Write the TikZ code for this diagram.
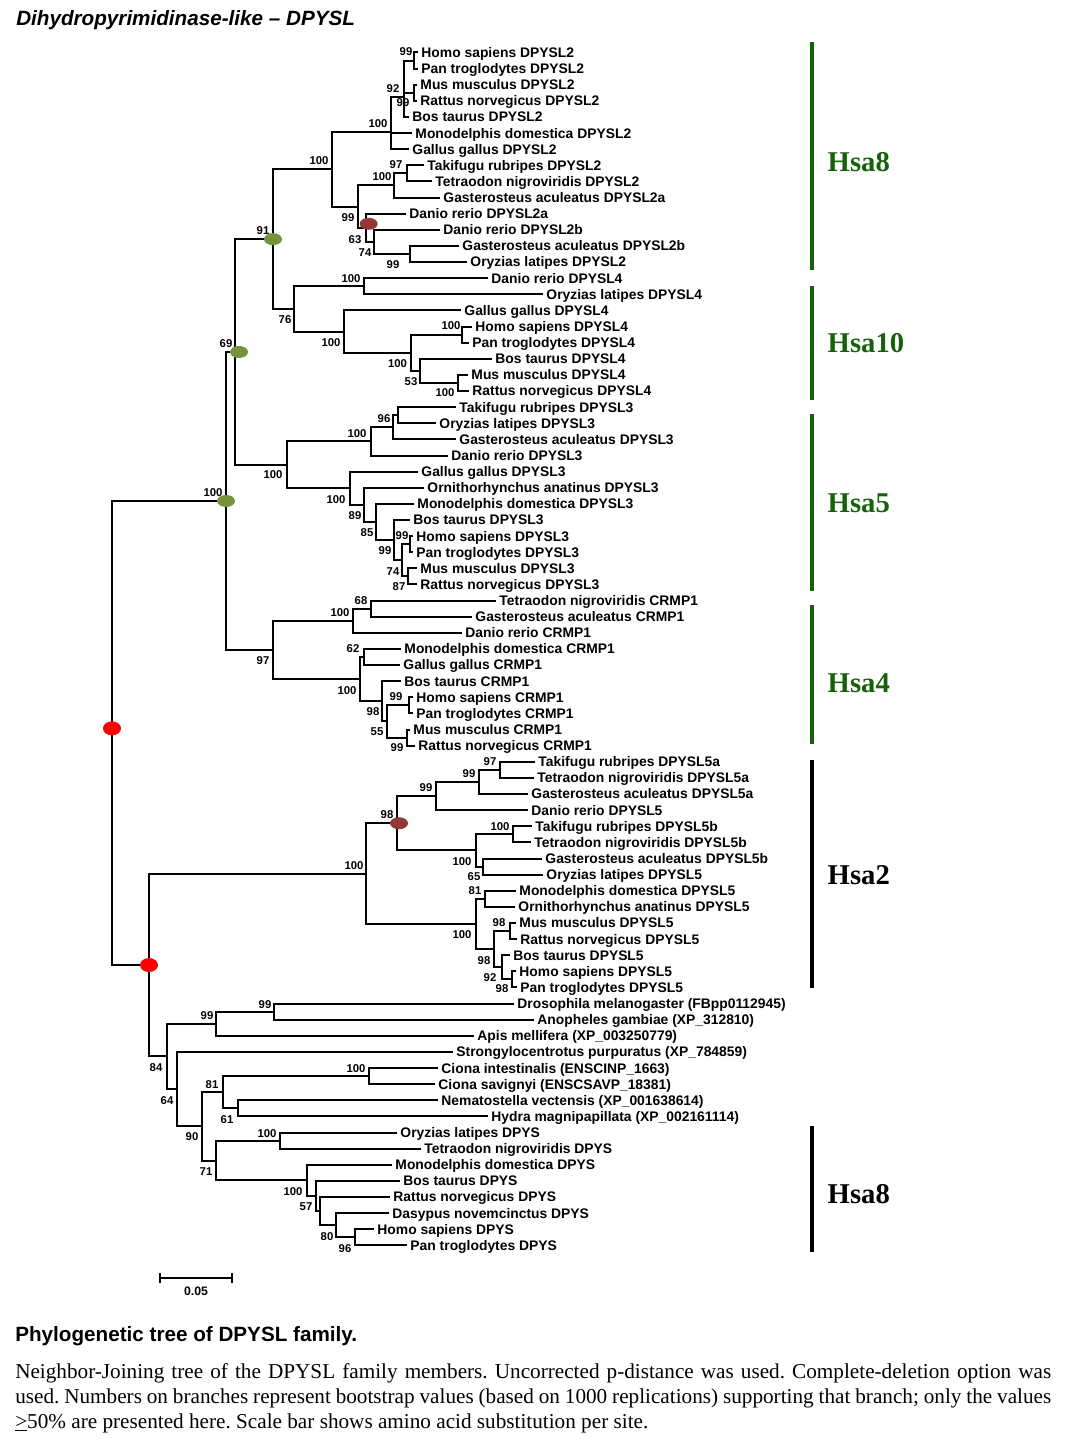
\documentclass[tikz,border=0pt]{standalone}
\usepackage{fontspec}
\setmainfont{Liberation Sans}
\newfontfamily\serifrm{Liberation Serif}
\usetikzlibrary{calc,shapes.geometric}
\definecolor{hsagreen}{RGB}{22,98,10}
\definecolor{dotgreen}{RGB}{118,146,60}
\definecolor{dotbrown}{RGB}{149,55,53}
\tikzset{
  br/.style={line width=1.5pt},
  lf/.style={anchor=west,inner xsep=2.4pt,inner ysep=0pt,text height=7.4pt,text depth=0pt,
    font=\bfseries\fontsize{10.4}{12}\selectfont},
  bsv/.style={inner sep=0pt,font=\bfseries\fontsize{8.5}{10}\selectfont},
  dot/.style={ellipse,inner sep=0pt,minimum width=13.5pt,minimum height=9pt},
  hsabar/.style={line width=3pt},
  hsa/.style={anchor=west,font=\serifrm\bfseries\fontsize{21.5}{24}\selectfont}
}
\newcommand\tjoin[4]{%
  \coordinate (tmp) at ($(#3)!.5!(#4)$);
  \coordinate (#1) at (#2,0 |- tmp);
  \draw[br] (#1) |- (#3) (#1) |- (#4);}

\begin{document}
\begin{tikzpicture}[x=0.75pt,y=-0.75pt]
\path[use as bounding box] (0,0) rectangle (1066,1448);
\node[anchor=west,inner sep=0pt,font=\bfseries\itshape\fontsize{15.5}{18}\selectfont] (ttl) at (16,20) {Dihydropyrimidinase-like – DPYSL};

\foreach \lx/\lt [count=\i] in {418/Homo sapiens DPYSL2, 418/Pan troglodytes DPYSL2,
  417/Mus musculus DPYSL2, 417/Rattus norvegicus DPYSL2, 409/Bos taurus DPYSL2,
  412/Monodelphis domestica DPYSL2, 409/Gallus gallus DPYSL2, 424/Takifugu rubripes DPYSL2,
  432/Tetraodon nigroviridis DPYSL2, 440/Gasterosteus aculeatus DPYSL2a, 406/Danio rerio DPYSL2a,
  440/Danio rerio DPYSL2b, 459/Gasterosteus aculeatus DPYSL2b, 467/Oryzias latipes DPYSL2,
  488/Danio rerio DPYSL4, 543/Oryzias latipes DPYSL4, 461/Gallus gallus DPYSL4,
  472/Homo sapiens DPYSL4, 469/Pan troglodytes DPYSL4, 492/Bos taurus DPYSL4,
  468/Mus musculus DPYSL4, 469/Rattus norvegicus DPYSL4, 456/Takifugu rubripes DPYSL3,
  436/Oryzias latipes DPYSL3, 456/Gasterosteus aculeatus DPYSL3, 448/Danio rerio DPYSL3,
  418/Gallus gallus DPYSL3, 424/Ornithorhynchus anatinus DPYSL3, 414/Monodelphis domestica DPYSL3,
  410/Bos taurus DPYSL3, 413/Homo sapiens DPYSL3, 413/Pan troglodytes DPYSL3,
  417/Mus musculus DPYSL3, 417/Rattus norvegicus DPYSL3, 496/Tetraodon nigroviridis CRMP1,
  472/Gasterosteus aculeatus CRMP1, 462/Danio rerio CRMP1, 401/Monodelphis domestica CRMP1,
  400/Gallus gallus CRMP1, 401/Bos taurus CRMP1, 413/Homo sapiens CRMP1,
  413/Pan troglodytes CRMP1, 410/Mus musculus CRMP1, 415/Rattus norvegicus CRMP1,
  535/Takifugu rubripes DPYSL5a, 534/Tetraodon nigroviridis DPYSL5a, 528/Gasterosteus aculeatus DPYSL5a,
  528/Danio rerio DPYSL5, 532/Takifugu rubripes DPYSL5b, 531/Tetraodon nigroviridis DPYSL5b,
  542/Gasterosteus aculeatus DPYSL5b, 543/Oryzias latipes DPYSL5, 516/Monodelphis domestica DPYSL5,
  515/Ornithorhynchus anatinus DPYSL5, 516/Mus musculus DPYSL5, 517/Rattus norvegicus DPYSL5,
  510/Bos taurus DPYSL5, 516/Homo sapiens DPYSL5, 517/Pan troglodytes DPYSL5,
  514/Drosophila melanogaster (FBpp0112945), 534/Anopheles gambiae (XP\_312810),
  474/Apis mellifera (XP\_003250779), 453/Strongylocentrotus purpuratus (XP\_784859),
  438/Ciona intestinalis (ENSCINP\_1663), 435/Ciona savignyi (ENSCSAVP\_18381),
  438/Nematostella vectensis (XP\_001638614), 488/Hydra magnipapillata (XP\_002161114),
  397/Oryzias latipes DPYS, 421/Tetraodon nigroviridis DPYS, 392/Monodelphis domestica DPYS,
  400/Bos taurus DPYS, 390/Rattus norvegicus DPYS, 389/Dasypus novemcinctus DPYS,
  374/Homo sapiens DPYS, 407/Pan troglodytes DPYS}
  \node[lf] (l\i) at (\lx,{52.5+16.12*(\i-1)}) {\lt};

\tjoin{hp2}{414}{l1.west}{l2.west}
\tjoin{mr2}{414}{l3.west}{l4.west}
\tjoin{a1}{404}{hp2}{mr2}
\tjoin{a2}{404}{a1}{l5.west}
\tjoin{a3}{391}{a2}{l6.west}
\tjoin{a4}{391}{a3}{l7.west}
\tjoin{tt2}{407}{l8.west}{l9.west}
\tjoin{t2}{394}{tt2}{l10.west}
\tjoin{go2}{410}{l13.west}{l14.west}
\tjoin{d2b}{374}{l12.west}{go2}
\tjoin{d2a}{366}{l11.west}{d2b}
\tjoin{fish2}{358}{t2}{d2a}
\tjoin{dpysl2}{332}{a4}{fish2}
\tjoin{fish4}{364}{l15.west}{l16.west}
\tjoin{hp4}{462}{l18.west}{l19.west}
\tjoin{mr4}{458}{l21.west}{l22.west}
\tjoin{bm4}{420}{l20.west}{mr4}
\tjoin{mam4}{411}{hp4}{bm4}
\tjoin{tet4}{344}{l17.west}{mam4}
\tjoin{dpysl4}{294}{fish4}{tet4}
\tjoin{n91}{273}{dpysl2}{dpysl4}
\tjoin{to3}{398}{l23.west}{l24.west}
\tjoin{tog3}{393}{to3}{l25.west}
\tjoin{fish3}{371}{tog3}{l26.west}
\tjoin{hp3}{410}{l31.west}{l32.west}
\tjoin{mr3}{408}{l33.west}{l34.west}
\tjoin{hpmr3}{402}{hp3}{mr3}
\tjoin{eu3}{394}{l30.west}{hpmr3}
\tjoin{mam3}{376}{l29.west}{eu3}
\tjoin{orn3}{364}{l28.west}{mam3}
\tjoin{tet3}{350}{l27.west}{orn3}
\tjoin{dpysl3}{287}{fish3}{tet3}
\tjoin{n69}{235}{n91}{dpysl3}
\tjoin{tg1}{371}{l35.west}{l36.west}
\tjoin{fish1}{353}{tg1}{l37.west}
\tjoin{mg1}{364}{l38.west}{l39.west}
\tjoin{hp1}{409}{l41.west}{l42.west}
\tjoin{mr1}{407}{l43.west}{l44.west}
\tjoin{hpmr1}{387}{hp1}{mr1}
\tjoin{eu1}{382}{l40.west}{hpmr1}
\tjoin{tet1}{360}{mg1}{eu1}
\tjoin{crmp1}{273}{fish1}{tet1}
\tjoin{n100g}{226}{n69}{crmp1}
\tjoin{tt5a}{500}{l45.west}{l46.west}
\tjoin{ttg5a}{479}{tt5a}{l47.west}
\tjoin{fish5a}{436}{ttg5a}{l48.west}
\tjoin{tt5b}{513}{l49.west}{l50.west}
\tjoin{go5}{483}{l51.west}{l52.west}
\tjoin{fish5b}{476}{tt5b}{go5}
\tjoin{fish5}{397}{fish5a}{fish5b}
\tjoin{mo5}{485}{l53.west}{l54.west}
\tjoin{mr5}{510}{l55.west}{l56.west}
\tjoin{hp5}{512}{l58.west}{l59.west}
\tjoin{bhp5}{502}{l57.west}{hp5}
\tjoin{eu5}{494}{mr5}{bhp5}
\tjoin{mam5}{476}{mo5}{eu5}
\tjoin{dpysl5}{366}{fish5}{mam5}
\tjoin{ins}{274}{l60.west}{l61.west}
\tjoin{arth}{216}{ins}{l62.west}
\tjoin{cio}{369}{l64.west}{l65.west}
\tjoin{cni}{238}{l66.west}{l67.west}
\tjoin{n81}{223}{cio}{cni}
\tjoin{fish0}{280}{l68.west}{l69.west}
\tjoin{hp0}{355}{l74.west}{l75.west}
\tjoin{dhp0}{336}{l73.west}{hp0}
\tjoin{rdhp0}{320}{l72.west}{dhp0}
\tjoin{eu0}{316}{l71.west}{rdhp0}
\tjoin{mam0}{307}{l70.west}{eu0}
\tjoin{dpys}{216}{fish0}{mam0}
\tjoin{n90}{202}{n81}{dpys}
\tjoin{deut}{177}{l63.west}{n90}
\tjoin{n64}{167}{arth}{deut}
\tjoin{nred}{149}{dpysl5}{n64}
\tjoin{root}{112}{n100g}{nred}

\foreach \bx/\by/\bt [count=\k] in {406/52/99, 393/89/92, 403/103/99, 378/124/100,
  319/161/100, 396/165/97, 382/176.5/100, 348/218/99, 355/240/63, 365/253/74,
  393/265/99, 263/231/91, 351/278.7/100, 285/320/76, 331/342.7/100, 451/326/100,
  397.5/364/100, 411/382/53, 445/393/100, 226/344/69, 384/419/96, 357/433.5/100,
  273/475/100, 213/492.5/100, 336/499.5/100, 355/516/89, 367/532.5/85, 402/536/99,
  385/551/99, 393/572/74, 399/586.7/87, 361/601/68, 340/613/100, 263/661/97,
  353/649/62, 347/691/100, 396/697/99, 373/712/98, 377/732/55, 397/748/99,
  490/761.7/97, 469/774/99, 426/788/99, 387/815/98, 500/826.8/100, 462/861.7/100,
  354/866/100, 474/877/65, 475/891/81, 499/923/98, 462/935/100, 484/960.5/98,
  490/978/92, 502/989/98, 265/1004.7/99, 207/1016/99, 156/1068/84, 356/1069/100,
  212/1085/81, 167/1100.5/64, 227/1120/61, 267/1133.5/100, 192/1137/90, 206/1172/71,
  293/1192/100, 306/1207/57, 327/1237/80, 345/1249/96}
  \node[bsv] (b\k) at (\bx,\by) {\bt};

\node[dot,fill=dotgreen] (e1) at (n91) {};
\node[dot,fill=dotgreen] (e2) at ([xshift=3pt]n69) {};
\node[dot,fill=dotgreen] (e3) at (n100g) {};
\node[dot,fill=dotbrown] (e4) at ([xshift=2pt,yshift=3pt]d2a) {};
\node[dot,fill=dotbrown] (e5) at ([xshift=1.5pt]fish5) {};
\node[dot,fill=red,minimum height=10.5pt] (e6) at ([yshift=3.5pt]root) {};
\node[dot,fill=red,minimum height=10.5pt] (e7) at (nred) {};

\foreach \ya/\yb/\yl/\nm/\col [count=\j] in {42/270/162/Hsa8/hsagreen, 286/400/343/Hsa10/hsagreen,
  414/591/503/Hsa5/hsagreen, 605/744/683/Hsa4/hsagreen, 760/988/875/Hsa2/black,
  1126/1252/1194/Hsa8/black}{
  \draw[hsabar,\col] (812,\ya) -- (812,\yb);
  \node[hsa,\col] (h\j) at (823,\yl) {\nm};
}

\draw[br] (160,1273) -- (160,1283) (160,1278) -- (232,1278) (232,1273) -- (232,1283);
\node[bsv,font=\bfseries\fontsize{9.2}{11}\selectfont] (scl) at (196,1291) {0.05};

\node[anchor=west,inner sep=0pt,font=\bfseries\fontsize{15.5}{18}\selectfont] (cap) at (15,1336) {Phylogenetic tree of DPYSL family.};
\node[anchor=north west,inner sep=0pt,text width=777pt,align=justify,
  font=\serifrm\fontsize{15.9}{18.75}\selectfont] (txt) at (15,1363)
  {\frenchspacing Neighbor-Joining tree of the DPYSL family members. Uncorrected p-distance was used. Complete-deletion option was\linebreak
  used. Numbers on branches represent bootstrap values (based on 1000 replications) supporting that branch; only the values\linebreak
  \underline{>}50\% are presented here. Scale bar shows amino acid substitution per site.};
\end{tikzpicture}
\end{document}
